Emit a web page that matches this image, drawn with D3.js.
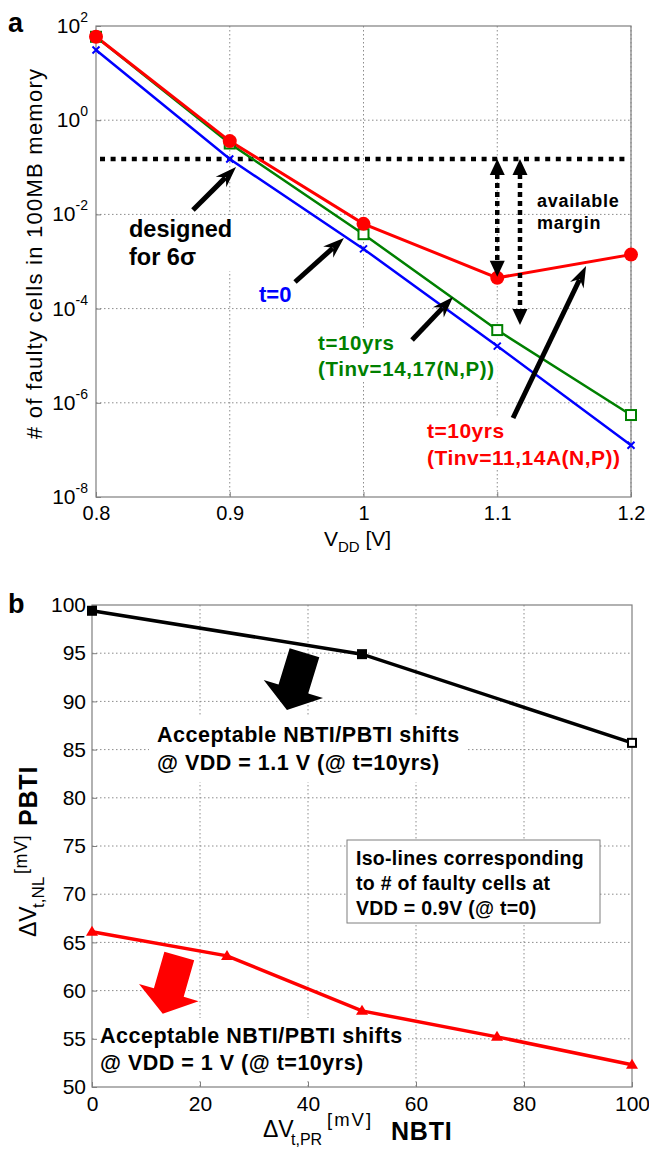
<!DOCTYPE html>
<html><head><meta charset="utf-8">
<script src="https://cdn.jsdelivr.net/npm/d3@7"></script>
<style>body{margin:0;background:#fff} svg{display:block} text{font-family:"Liberation Sans",Arial,Helvetica,sans-serif}</style>
</head><body><svg id="c" width="649" height="1151"></svg>
<script>
// ---------- Data: panel a ----------
const vdd = [0.8, 0.9, 1.0, 1.1, 1.2];
const faultyT0 = [31, 0.15, 1.85e-3, 1.6e-5, 1.26e-7];
const faultyTinv1417 = [59, 0.32, 3.8e-3, 3.5e-5, 5.5e-7];
const faultyTinv1114 = [59, 0.36, 6.3e-3, 4.5e-4, 1.4e-3];
const designLevel = 0.15;
const vddTicks = [0.8, 0.9, 1.0, 1.1, 1.2];
const vddTickLabels = ["0.8", "0.9", "1", "1.1", "1.2"];
const faultyTickExps = [-8, -6, -4, -2, 0, 2];
// ---------- Data: panel b ----------
const nbtiBlack = [0, 50, 100];
const pbtiVdd11 = [99.4, 94.9, 85.7];
const nbtiRed = [0, 25, 50, 75, 100];
const pbtiVdd10 = [66.1, 63.6, 57.9, 55.2, 52.3];
const nbtiTicks = [0, 20, 40, 60, 80, 100];
const pbtiTicks = [50, 55, 60, 65, 70, 75, 80, 85, 90, 95, 100];

const svg = d3.select("#c");
const GRID = "#8c8c8c", AXIS = "#7f7f7f";

function whiteBg(sel, pad) {
  sel.each(function () {
    const b = this.getBBox();
    d3.select(this.parentNode).insert("rect", () => this)
      .attr("x", b.x - pad[0]).attr("y", b.y - pad[1])
      .attr("width", b.width + 2 * pad[0]).attr("height", b.height + 2 * pad[1])
      .attr("fill", "#fff");
  });
  return sel;
}
function textBlock(g, x, ys, lines, size, color, ls) {
  const t = g.append("text").attr("font-size", size).attr("font-weight", "bold").attr("fill", color)
    .attr("letter-spacing", ls || 0);
  lines.forEach((s, i) => t.append("tspan").attr("x", x).attr("y", ys[i]).text(s));
  return t;
}
function lineArrow(g, x1, y1, x2, y2, w, hl, hw) {
  const dx = x2 - x1, dy = y2 - y1, L = Math.hypot(dx, dy);
  const ux = dx / L, uy = dy / L, nx = -uy, ny = ux;
  const bx = x2 - ux * hl, by = y2 - uy * hl;
  g.append("line").attr("x1", x1).attr("y1", y1).attr("x2", bx + ux * 2).attr("y2", by + uy * 2)
    .attr("stroke", "#000").attr("stroke-width", w);
  const nb = hl * 0.25;
  g.append("polygon").attr("points", [
    [x2, y2], [bx - ux * nb + nx * hw / 2, by - uy * nb + ny * hw / 2],
    [bx + ux * nb * 0.6, by + uy * nb * 0.6],
    [bx - ux * nb - nx * hw / 2, by - uy * nb - ny * hw / 2]].map(p => p.join(",")).join(" "))
    .attr("fill", "#000");
}

// ================= PANEL A =================
const A = {l: 96, r: 631, t: 26, b: 497};
const xa = d3.scaleLinear().domain([0.8, 1.2]).range([A.l, A.r]);
const ya = d3.scaleLog().domain([1e-8, 1e2]).range([A.b, A.t]);
const ga = svg.append("g");

// grid
ga.append("g").selectAll("line").data(vddTicks.slice(1)).join("line")
  .attr("x1", d => xa(d)).attr("x2", d => xa(d)).attr("y1", A.t).attr("y2", A.b)
  .attr("stroke", GRID).attr("stroke-dasharray", "1.5,2.5");
ga.append("g").selectAll("line").data(faultyTickExps.slice(1, -1)).join("line")
  .attr("y1", d => ya(Math.pow(10, d))).attr("y2", d => ya(Math.pow(10, d))).attr("x1", A.l).attr("x2", A.r)
  .attr("stroke", GRID).attr("stroke-dasharray", "1.5,2.5");

// annotation texts with white boxes (below data lines)
const ann = ga.append("g");
whiteBg(textBlock(ann, 129, [237, 265], ["designed", "for 6σ"], 23.5, "#000"), [3, 1]);
whiteBg(textBlock(ann, 259, [302], ["t=0"], 22, "#0000ff"), [2, 0]);
whiteBg(textBlock(ann, 318, [350, 376], ["t=10yrs", "(Tinv=14,17(N,P))"], 20.5, "#008000", 0.6), [3, 1]);
whiteBg(textBlock(ann, 427, [438, 465], ["t=10yrs", "(Tinv=11,14A(N,P))"], 21, "#ff0000", 0.5), [3, 1]);
textBlock(ann, 537, [207, 229], ["available", "margin"], 18, "#000", 0.7);

ga.append("rect").attr("x", A.l).attr("y", A.t).attr("width", A.r - A.l).attr("height", A.b - A.t)
  .attr("fill", "none").attr("stroke", AXIS).attr("stroke-width", 1.2);

// axes ticks / labels
const xAxA = d3.axisBottom(xa).tickValues(vddTicks).tickFormat((d, i) => vddTickLabels[i]).tickSize(-5).tickPadding(9);
ga.append("g").attr("transform", `translate(0,${A.b})`).call(xAxA)
  .call(g => { g.select(".domain").remove(); g.selectAll("line").attr("stroke", AXIS);
    g.selectAll("text").attr("font-size", 20).attr("fill", "#000").attr("font-family", "Liberation Sans, Arial, sans-serif"); });
const yAxA = d3.axisLeft(ya).tickValues(faultyTickExps.map(e => Math.pow(10, e))).tickFormat("").tickSize(-5);
ga.append("g").attr("transform", `translate(${A.l},0)`).call(yAxA)
  .call(g => { g.select(".domain").remove(); g.selectAll("line").attr("stroke", AXIS); });
const ylab = ga.append("g").selectAll("text").data(faultyTickExps).join("text")
  .attr("x", A.l - 8).attr("y", d => ya(Math.pow(10, d)) + 7).attr("text-anchor", "end").attr("font-size", 21);
ylab.append("tspan").text("10");
ylab.append("tspan").attr("dy", -11).attr("font-size", 14).text(d => d);

// axis titles
const xtA = ga.append("text").attr("x", 324).attr("y", 546).attr("font-size", 21);
xtA.append("tspan").text("V");
xtA.append("tspan").attr("dy", 6).attr("font-size", 15).text("DD");
xtA.append("tspan").attr("dy", -6).text(" [V]");
ga.append("text").attr("transform", "translate(42,254) rotate(-90)").attr("text-anchor", "middle")
  .attr("font-size", 22).attr("textLength", 370).attr("lengthAdjust", "spacing")
  .text("# of faulty cells in 100MB memory");
svg.append("text").attr("x", 8).attr("y", 32).attr("font-size", 27).attr("font-weight", "bold").text("a");

// threshold dotted line
ga.append("line").attr("x1", xa(0.803)).attr("x2", xa(1.197)).attr("y1", ya(designLevel)).attr("y2", ya(designLevel))
  .attr("stroke", "#000").attr("stroke-width", 4.5).attr("stroke-dasharray", "5,5.6");

// series lines
const lineA = (vals) => d3.line().x((d, i) => xa(vdd[i])).y(d => ya(d))(vals);
ga.append("path").attr("d", lineA(faultyT0)).attr("fill", "none").attr("stroke", "#0000ff").attr("stroke-width", 2.5);
ga.append("path").attr("d", lineA(faultyTinv1417)).attr("fill", "none").attr("stroke", "#008000").attr("stroke-width", 2.5);
ga.append("path").attr("d", lineA(faultyTinv1114)).attr("fill", "none").attr("stroke", "#ff0000").attr("stroke-width", 3);
// markers
ga.append("g").selectAll("path").data(faultyT0).join("path")
  .attr("d", (d, i) => { const x = xa(vdd[i]), y = ya(d), s = 3.5; return `M${x-s},${y-s}L${x+s},${y+s}M${x-s},${y+s}L${x+s},${y-s}`; })
  .attr("stroke", "#0000ff").attr("stroke-width", 2);
ga.append("g").selectAll("rect").data(faultyTinv1417).join("rect")
  .attr("x", (d, i) => xa(vdd[i]) - 5).attr("y", d => ya(d) - 5).attr("width", 10).attr("height", 10)
  .attr("fill", "#fff").attr("stroke", "#008000").attr("stroke-width", 2);
ga.append("g").selectAll("circle").data(faultyTinv1114).join("circle")
  .attr("cx", (d, i) => xa(vdd[i])).attr("cy", d => ya(d)).attr("r", 7).attr("fill", "#ff0000");

// margin double arrows
function dblArrow(xv, yTop, yBot) {
  const x = xa(xv), y1 = ya(yTop), y2 = ya(yBot), h = 16, w = 15;
  ga.append("line").attr("x1", x).attr("x2", x).attr("y1", y1 + h - 1).attr("y2", y2 - h + 1)
    .attr("stroke", "#000").attr("stroke-width", 4.5).attr("stroke-dasharray", "5,4");
  ga.append("polygon").attr("points", `${x},${y1} ${x - w / 2},${y1 + h} ${x + w / 2},${y1 + h}`).attr("fill", "#000");
  ga.append("polygon").attr("points", `${x},${y2} ${x - w / 2},${y2 - h} ${x + w / 2},${y2 - h}`).attr("fill", "#000");
}
dblArrow(1.1, designLevel, faultyTinv1114[3] * 1.05);
dblArrow(1.117, designLevel, 4.5e-5);

// annotation arrows (data coordinates)
lineArrow(ga, xa(0.8725), ya(Math.pow(10, -1.906)), xa(0.9047), ya(Math.pow(10, -0.994)), 5, 17, 15);
lineArrow(ga, xa(0.9488), ya(Math.pow(10, -3.435)), xa(0.9854), ya(Math.pow(10, -2.501)), 5, 17, 15);
lineArrow(ga, xa(1.0363), ya(Math.pow(10, -4.667)), xa(1.0669), ya(Math.pow(10, -3.754)), 5, 17, 15);
lineArrow(ga, xa(1.1118), ya(Math.pow(10, -6.323)), xa(1.1664), ya(Math.pow(10, -3.096)), 5, 17, 15);

// ================= PANEL B =================
const B = {l: 92, r: 632, t: 605, b: 1087};
const xb = d3.scaleLinear().domain([0, 100]).range([B.l, B.r]);
const yb = d3.scaleLinear().domain([50, 100]).range([B.b, B.t]);
const gb = svg.append("g");

gb.append("g").selectAll("line").data(nbtiTicks.slice(1, -1)).join("line")
  .attr("x1", d => xb(d)).attr("x2", d => xb(d)).attr("y1", B.t).attr("y2", B.b)
  .attr("stroke", GRID).attr("stroke-dasharray", "1.5,2.5");
gb.append("g").selectAll("line").data(pbtiTicks.slice(1, -1)).join("line")
  .attr("y1", d => yb(d)).attr("y2", d => yb(d)).attr("x1", B.l).attr("x2", B.r)
  .attr("stroke", GRID).attr("stroke-dasharray", "1.5,2.5");

// white boxes behind annotation text
const annB = gb.append("g");
whiteBg(textBlock(annB, 157, [742, 770], ["Acceptable NBTI/PBTI shifts", "@ VDD = 1.1 V (@ t=10yrs)"], 21.5, "#000", 0.5), [8, 7]);
whiteBg(textBlock(annB, 100, [1043, 1070], ["Acceptable NBTI/PBTI shifts", "@ VDD = 1 V (@ t=10yrs)"], 21.5, "#000", 0.5), [5, 6]);

gb.append("rect").attr("x", B.l).attr("y", B.t).attr("width", B.r - B.l).attr("height", B.b - B.t)
  .attr("fill", "none").attr("stroke", AXIS).attr("stroke-width", 1.2);
gb.append("g").attr("transform", `translate(0,${B.b})`)
  .call(d3.axisBottom(xb).tickValues(nbtiTicks).tickSize(-5).tickPadding(9))
  .call(g => { g.select(".domain").remove(); g.selectAll("line").attr("stroke", AXIS);
    g.selectAll("text").attr("font-size", 21).attr("fill", "#000").attr("font-family", "Liberation Sans, Arial, sans-serif"); });
gb.append("g").attr("transform", `translate(${B.l},0)`)
  .call(d3.axisLeft(yb).tickValues(pbtiTicks).tickSize(-5).tickPadding(6))
  .call(g => { g.select(".domain").remove(); g.selectAll("line").attr("stroke", AXIS);
    g.selectAll("text").attr("font-size", 21).attr("fill", "#000").attr("font-family", "Liberation Sans, Arial, sans-serif"); });

// axis titles (pieces)
const xt = gb.append("g");
xt.append("text").attr("x", 263).attr("y", 1137).attr("font-size", 23).text("ΔV");
xt.append("text").attr("x", 291).attr("y", 1145).attr("font-size", 16).text("t,PR");
xt.append("text").attr("x", 327).attr("y", 1126).attr("font-size", 18.5).attr("letter-spacing", 2).text("[mV]");
xt.append("text").attr("x", 391).attr("y", 1140).attr("font-size", 25).attr("font-weight", "bold").attr("letter-spacing", 0.8).text("NBTI");
const yt = gb.append("g").attr("transform", "translate(0,937) rotate(-90)");
yt.append("text").attr("x", 0).attr("y", 36).attr("font-size", 23).text("ΔV");
yt.append("text").attr("x", 29).attr("y", 44).attr("font-size", 17).text("t,NL");
yt.append("text").attr("x", 63).attr("y", 27).attr("font-size", 18).attr("letter-spacing", 0.5).text("[mV]");
yt.append("text").attr("x", 111).attr("y", 37).attr("font-size", 25).attr("font-weight", "bold").attr("letter-spacing", 0.8).text("PBTI");
svg.append("text").attr("x", 8).attr("y", 613).attr("font-size", 27).attr("font-weight", "bold").text("b");

// lines
const lineB = (xs, ys) => d3.line().x((d, i) => xb(xs[i])).y(d => yb(d))(ys);
gb.append("path").attr("d", lineB(nbtiBlack, pbtiVdd11)).attr("fill", "none").attr("stroke", "#000").attr("stroke-width", 3.5);
gb.append("path").attr("d", lineB(nbtiRed, pbtiVdd10)).attr("fill", "none").attr("stroke", "#ff0000").attr("stroke-width", 3.5);
gb.append("g").selectAll("rect").data(pbtiVdd11).join("rect")
  .attr("x", (d, i) => xb(nbtiBlack[i]) - 4).attr("y", d => yb(d) - 4).attr("width", 8).attr("height", 8)
  .attr("fill", (d, i) => i === 2 ? "#fff" : "#000").attr("stroke", "#000").attr("stroke-width", 2);
gb.append("g").selectAll("path").data(pbtiVdd10).join("path")
  .attr("d", (d, i) => { const x = xb(nbtiRed[i]), y = yb(d); return `M${x},${y-6}L${x+6},${y+4}L${x-6},${y+4}Z`; })
  .attr("fill", "#ff0000");

// block arrows
function blockArrow(tipX, tipY, angle, color) {
  const L = 60, bw = 31, hw = 62, hl = 22;
  const pts = [[-bw/2, -L], [bw/2, -L], [bw/2, -hl], [hw/2, -hl], [0, 0], [-hw/2, -hl], [-bw/2, -hl]];
  gb.append("polygon").attr("points", pts.map(p => p.join(",")).join(" "))
    .attr("transform", `translate(${tipX},${tipY}) rotate(${angle})`).attr("fill", color);
}
blockArrow(xb(36.1), yb(89.1), 17, "#000");
blockArrow(xb(13.1), yb(57.6), 16, "#ff0000");

// iso-lines box
const iso = gb.append("g");
iso.append("rect").attr("x", 347).attr("y", 840).attr("width", 253).attr("height", 83)
  .attr("fill", "#fff").attr("stroke", "#7f7f7f").attr("stroke-width", 1);
textBlock(iso, 356, [865, 890, 915], ["Iso-lines corresponding", "to # of faulty cells at", "VDD = 0.9V (@ t=0)"], 19.5, "#000", 0.3);
</script></body></html>
